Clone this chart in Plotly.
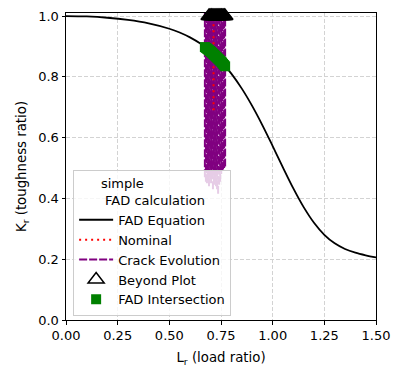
import plotly.graph_objects as go

# FAD curve (Lr, Kr)
fad_lr = [0.0, 0.1, 0.2, 0.3, 0.4, 0.5, 0.55, 0.6, 0.65, 0.7, 0.75, 0.8, 0.85, 0.9, 0.95,
          1.0, 1.05, 1.1, 1.15, 1.2, 1.25, 1.3, 1.35, 1.4, 1.45, 1.5]
fad_kr = [1.0, 0.9986, 0.9944, 0.9871, 0.9758, 0.9582, 0.9457, 0.9297, 0.9093, 0.8834, 0.8508,
          0.8106, 0.7620, 0.7053, 0.6414, 0.5723, 0.5014, 0.4330, 0.3713, 0.3198, 0.2802,
          0.2522, 0.2337, 0.2215, 0.2129, 0.206]

# crack evolution lines (vertical at Lr, from start Kr up past the plot)
crack_lr = [0.672, 0.677, 0.682, 0.687, 0.692, 0.697, 0.702, 0.706, 0.711, 0.716, 0.721,
            0.726, 0.731, 0.736, 0.741, 0.746, 0.751, 0.755, 0.760, 0.765, 0.770]
crack_kr_start = [0.47, 0.455, 0.45, 0.46, 0.44, 0.465, 0.45, 0.47, 0.43, 0.445, 0.46,
                  0.44, 0.43, 0.415, 0.445, 0.455, 0.48, 0.49, 0.495, 0.50, 0.505]
crack_kr_end = [1.05] * 21

# nominal line
nominal_lr = [0.714, 0.714]
nominal_kr = [0.69, 1.05]

# beyond plot markers
beyond_lr = [0.692, 0.697, 0.702, 0.706, 0.711, 0.716, 0.721, 0.726, 0.731, 0.736,
             0.741, 0.746, 0.751, 0.755, 0.760, 0.765, 0.769]
beyond_kr = [1.0] * 17

# FAD intersections
inter_lr = crack_lr
inter_kr = [0.8979, 0.8953, 0.8927, 0.8902, 0.8875, 0.8850, 0.8821, 0.8795, 0.8762, 0.8730,
            0.8697, 0.8665, 0.8632, 0.8599, 0.8567, 0.8534, 0.8500, 0.8468, 0.8428, 0.8387,
            0.8347]

fig = go.Figure()
for i, (lr, k0, k1) in enumerate(zip(crack_lr, crack_kr_start, crack_kr_end)):
    fig.add_trace(go.Scatter(x=[lr, lr], y=[k0, k1], mode="lines", name="Crack Evolution",
                             legendrank=3, legendgroup="crack", showlegend=(i == 0),
                             line=dict(color="#800080", width=2, dash="8px,2px")))
fig.add_trace(go.Scatter(x=fad_lr, y=fad_kr, mode="lines", name="FAD Equation", legendrank=1,
                         line=dict(color="black", width=1.8, shape="spline")))
fig.add_trace(go.Scatter(x=nominal_lr, y=nominal_kr, mode="lines", name="Nominal", legendrank=2,
                         line=dict(color="red", width=2, dash="2px,4px")))
fig.add_trace(go.Scatter(x=beyond_lr, y=beyond_kr, mode="markers", name="Beyond Plot", legendrank=4,
                         cliponaxis=False,
                         marker=dict(symbol="triangle-up-open", size=14, color="black",
                                     line=dict(color="black", width=1.5))))
fig.add_trace(go.Scatter(x=inter_lr, y=inter_kr, mode="markers", name="FAD Intersection", legendrank=5,
                         marker=dict(symbol="square", size=10, color="green",
                                     line=dict(width=0))))

axis_common = dict(showline=True, mirror=True, linecolor="black", linewidth=1,
                   ticks="outside", ticklen=3.5, tickcolor="black", tickwidth=1,
                   showgrid=True, gridcolor="#d3d3d3", griddash="4px,2px", gridwidth=0.8,
                   zeroline=False, automargin=False, tickfont=dict(size=13, color="black"))

fig.update_layout(
    width=400, height=380,
    margin=dict(l=66, r=24, t=13, b=60, pad=0),
    paper_bgcolor="white", plot_bgcolor="white",
    font=dict(family="DejaVu Sans", size=13, color="black"),
    xaxis=dict(range=[0, 1.5], tickvals=[0, 0.25, 0.5, 0.75, 1.0, 1.25, 1.5],
               ticktext=["0.00", "0.25", "0.50", "0.75", "1.00", "1.25", "1.50"],
               title=dict(text="L<sub>r</sub> (load ratio)", standoff=10, font=dict(size=13.3)),
               **axis_common),
    yaxis=dict(range=[0, 1.01], tickvals=[0, 0.2, 0.4, 0.6, 0.8, 1.0],
               ticktext=["0.0", "0.2", "0.4", "0.6", "0.8", "1.0"],
               title=dict(text="K<sub>r</sub> (toughness ratio)", standoff=8, font=dict(size=13.3)),
               **axis_common),
    legend=dict(x=0.023, y=0.013, xanchor="left", yanchor="bottom",
                bgcolor="rgba(255,255,255,0.8)", bordercolor="#cccccc", borderwidth=1,
                font=dict(size=13), tracegroupgap=0, itemwidth=34,
                title=dict(text="\u00a0\u00a0\u00a0\u00a0\u00a0\u00a0simple<br>\u00a0\u00a0\u00a0\u00a0\u00a0\u00a0\u00a0FAD calculation",
                           font=dict(size=13))),
    showlegend=True,
)

fig.write_html("out.html", config={"displayModeBar": False},
               post_script="document.body.style.margin='0';")
